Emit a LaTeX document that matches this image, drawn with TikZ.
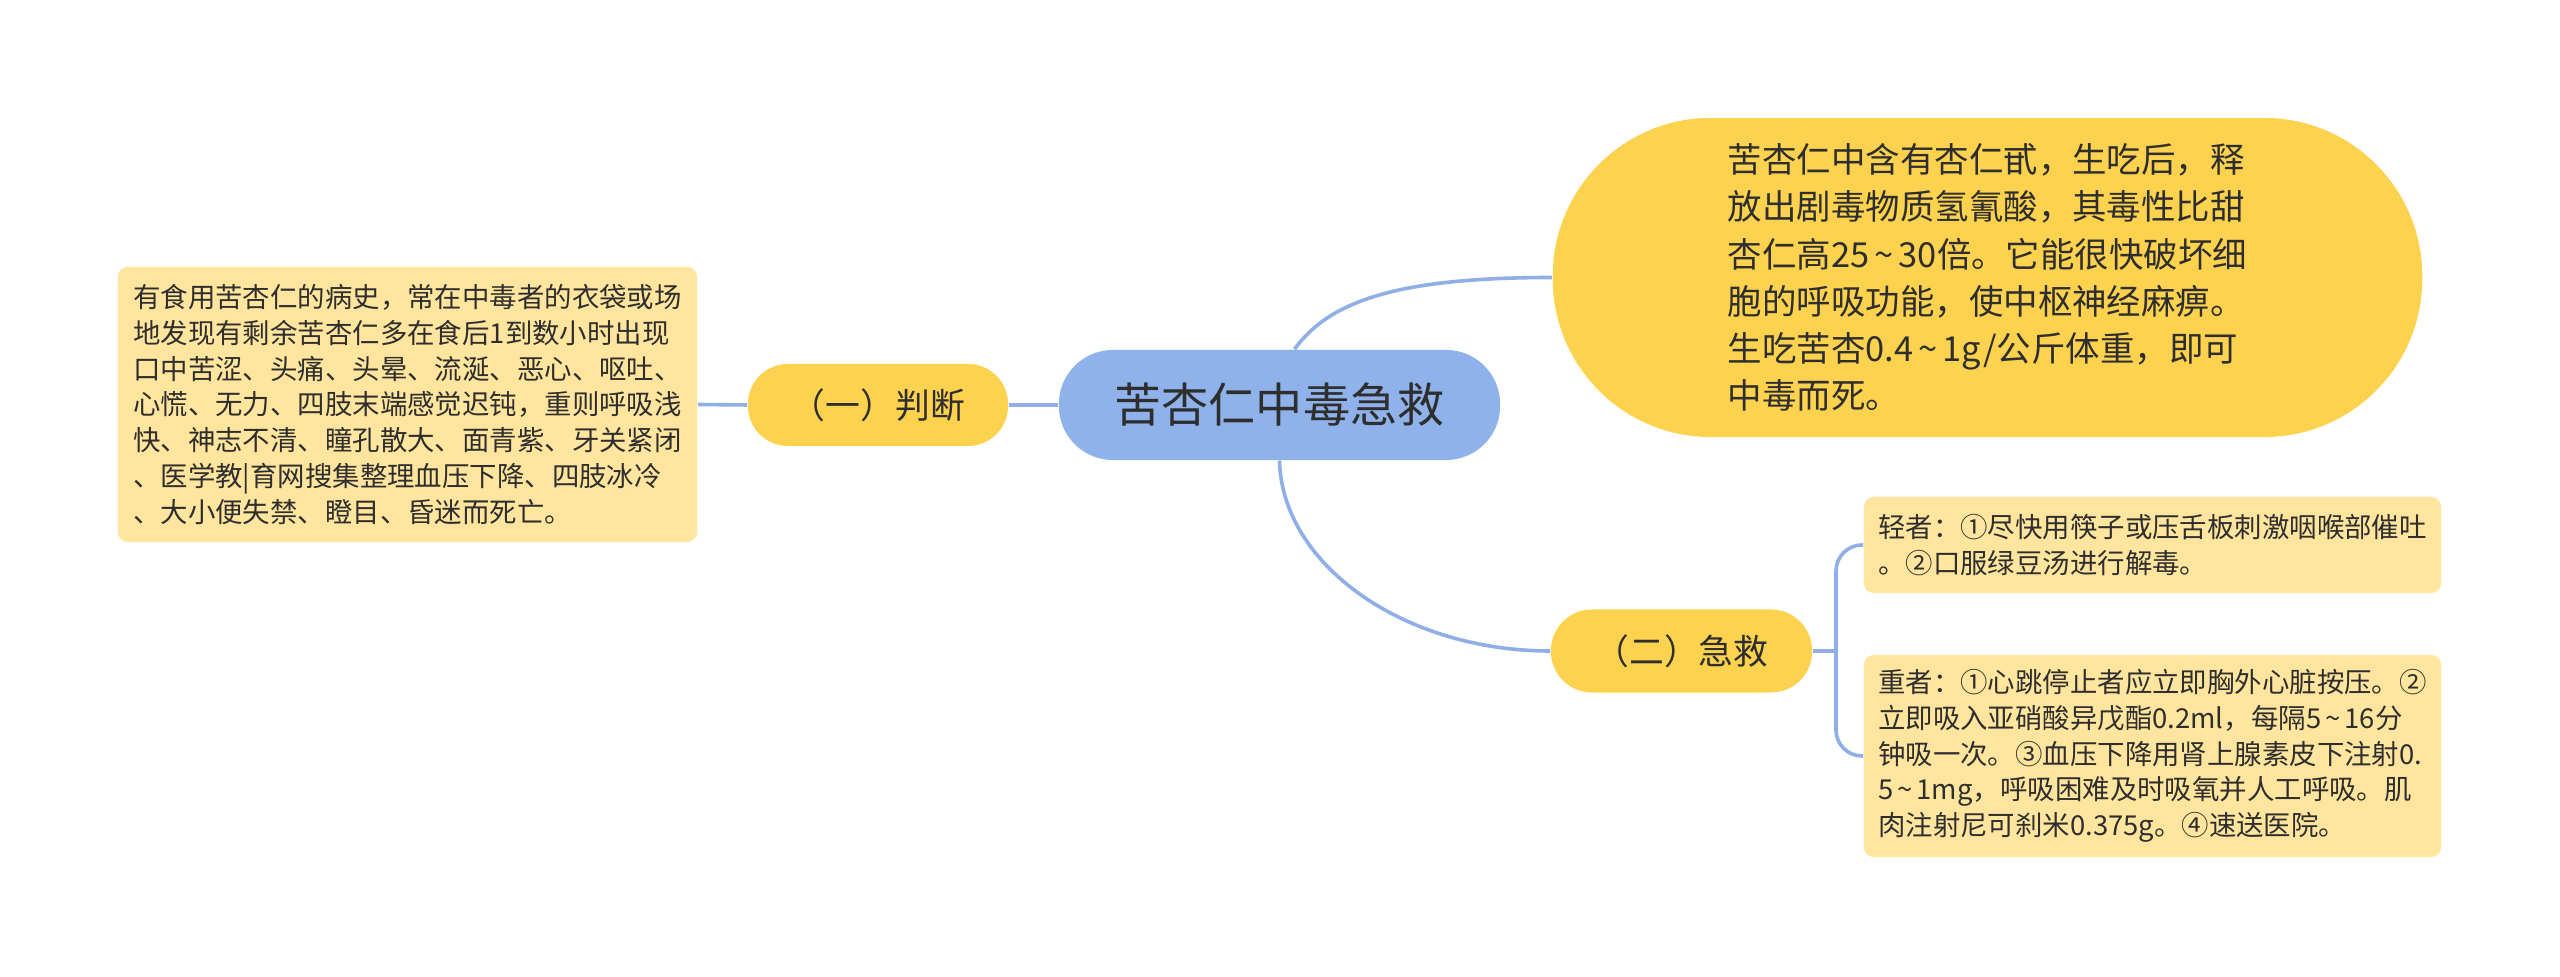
\documentclass[tikz,border=0pt]{standalone}
\usepackage{fontspec}
\newfontfamily\cjk{Noto Sans CJK SC}
\usetikzlibrary{calc}
\definecolor{rootblue}{HTML}{8FB2EA}
\definecolor{linkblue}{HTML}{8FAFE6}
\definecolor{mainyellow}{HTML}{FDD24F}
\definecolor{leafyellow}{HTML}{FFE59D}
\definecolor{txt}{HTML}{2E2E2E}
\newcommand\tld{\makebox[0.85em]{\textasciitilde}}
\tikzset{
  link/.style={draw=linkblue, line width=0.036cm},
  rootbox/.style={fill=rootblue, inner sep=0pt, text=txt, align=center,
    font=\cjk\fontsize{13.4pt}{16pt}\selectfont},
  mainbox/.style={fill=mainyellow, inner sep=0pt, text=txt, align=center,
    font=\cjk\fontsize{9.9pt}{12pt}\selectfont},
  bigbox/.style={fill=mainyellow, inner sep=0pt, text=txt, align=left,
    font=\cjk\fontsize{9.8pt}{13.45pt}\selectfont},
  leafbox/.style={fill=leafyellow, inner sep=0pt, text=txt, align=left,
    rounded corners=0.1cm, font=\cjk\fontsize{7.8pt}{10.15pt}\selectfont},
}
\begin{document}
\begin{tikzpicture}[x=0.01cm,y=-0.01cm]
\fill[white] (0,0) rectangle (2560,977);
\useasboundingbox (0,0) rectangle (2560,977);

% nodes
\node[rootbox, minimum width=4.41cm, minimum height=1.10cm, rounded corners=0.54cm] (root) at (1279.5,405) {苦杏仁中毒急救};
\node[mainbox, minimum width=2.60cm, minimum height=0.82cm, rounded corners=0.40cm] (judge) at (878,405) {（一）判断};
\node[leafbox, minimum width=5.79cm, minimum height=2.75cm] (judgeleaf) at (407.5,404.5) {有食用苦杏仁的病史，常在中毒者的衣袋或场\\地发现有剩余苦杏仁多在食后1到数小时出现\\口中苦涩、头痛、头晕、流涎、恶心、呕吐、\\心慌、无力、四肢末端感觉迟钝，重则呼吸浅\\快、神志不清、瞳孔散大、面青紫、牙关紧闭\\、医学教|育网搜集整理血压下降、四肢冰冷\\、大小便失禁、瞪目、昏迷而死亡。};
\node[bigbox, minimum width=8.69cm, minimum height=3.19cm, rounded corners=1.58cm] (top) at (1987.5,277.5) {苦杏仁中含有杏仁甙，生吃后，释\\放出剧毒物质氢氰酸，其毒性比甜\\杏仁高25\tld30倍。它能很快破坏细\\胞的呼吸功能，使中枢神经麻痹。\\生吃苦杏0.4\tld1g/公斤体重，即可\\中毒而死。};
\node[mainbox, minimum width=2.61cm, minimum height=0.83cm, rounded corners=0.41cm] (aid) at (1681.5,651) {（二）急救};
\node[leafbox, minimum width=5.77cm, minimum height=0.96cm] (light) at (2152.5,545) {轻者：①尽快用筷子或压舌板刺激咽喉部催吐\\。②口服绿豆汤进行解毒。};
\node[leafbox, minimum width=5.77cm, minimum height=2.02cm] (heavy) at (2152.5,756) {重者：①心跳停止者应立即胸外心脏按压。②\\立即吸入亚硝酸异戊酯0.2ml，每隔5\tld16分\\钟吸一次。③血压下降用肾上腺素皮下注射0.\\5\tld1mg，呼吸困难及时吸氧并人工呼吸。肌\\肉注射尼可刹米0.375g。④速送医院。};

% connectors
\coordinate (rootTop) at ($(root.north)+(15,0)$);
\draw[link] (rootTop) .. controls (1330,300) and (1400,277.5) .. (top.west);
\draw[link] (root.south) .. controls (1282,565) and (1404,651) .. (aid.west);
\draw[link] (root.west) -- (judge.east);
\draw[link] (judge.west) -- (judgeleaf.east);
\coordinate (fork) at (1836,651);
\draw[link] (aid.east) -- (fork);
\draw[link, rounded corners=0.26cm] (fork) |- (light.west);
\draw[link, rounded corners=0.26cm] (fork) |- (heavy.west);
\end{tikzpicture}
\end{document}
